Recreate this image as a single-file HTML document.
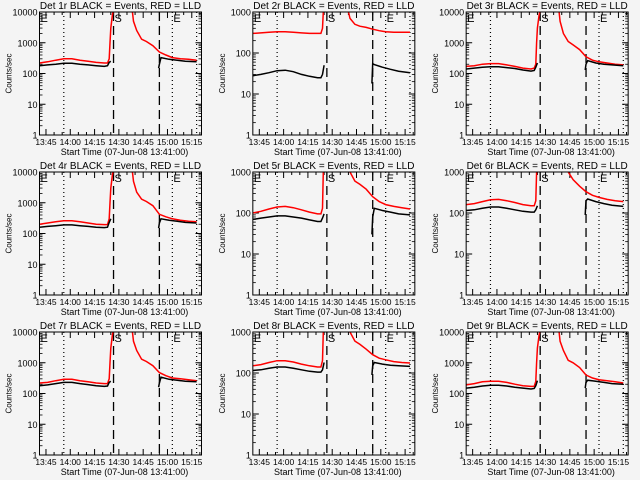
<!DOCTYPE html>
<html><head><meta charset="utf-8">
<style>
html,body{margin:0;padding:0;background:#f4f4f4;}
svg{display:block;}
text{font-family:"Liberation Sans",sans-serif;fill:#000;}
</style></head>
<body>
<svg id="chart" width="640" height="480" xmlns="http://www.w3.org/2000/svg">
<rect x="0" y="0" width="640" height="480" fill="#f4f4f4"/>
</svg>
<script>
// minutes since 13:41:00
const tRed = [0,5,10,15,20,25,30,35,40,42,43,43.5,44,45,46,55,57,58,60,63,66,70,74,78,82,87,92,97];
const tBlack = [0,5,10,15,20,25,30,35,40,42,43,44,45,73.5,74,75,80,85,90,97];
const detNames = ["1r","2r","3r","4r","5r","6r","7r","8r","9r"];
const yMaxes = [10000,1000,10000,10000,1000,1000,10000,1000,10000];
const red1 = [220,240,270,300,300,270,250,230,220,220,300,1000,3000,8000,15000,15000,15000,5000,2500,1300,1100,800,500,400,330,300,290,270];
const red2 = [300,310,320,330,330,320,310,300,300,300,400,1000,3000,8000,15000,15000,15000,1500,700,500,450,420,380,350,330,320,320,320];
const red3 = [170,180,200,210,210,190,170,150,140,150,200,1000,3000,8000,15000,15000,15000,5000,2000,1100,850,600,350,270,240,220,200,190];
const red4 = [200,220,240,260,260,240,220,200,195,195,300,1000,3000,8000,15000,15000,15000,5000,2200,1300,1100,800,420,350,300,270,250,240];
const red5 = [100,110,125,140,145,135,120,105,95,95,130,1000,3000,8000,15000,15000,15000,1500,1000,600,500,380,250,190,160,145,135,125];
const red6 = [160,170,190,210,215,200,180,160,150,150,200,1000,3000,8000,15000,15000,15000,15000,3000,1000,650,450,330,270,240,215,200,190];
const red7 = [220,230,260,290,290,260,240,220,210,210,300,1000,3000,8000,15000,15000,15000,5000,2500,1300,1100,800,480,380,320,300,280,260];
const red8 = [150,160,180,200,200,185,165,150,140,140,200,1000,3000,8000,15000,15000,15000,1500,1000,600,500,380,280,230,210,190,180,175];
const red9 = [190,210,240,250,250,230,200,180,170,170,250,1000,3000,8000,15000,15000,15000,5000,2500,1200,1000,700,400,320,280,260,240,220];
const black1 = [180,190,200,215,215,200,190,180,170,180,230,250,null,150,200,330,290,270,250,240];
const black2 = [28,30,33,37,38,35,30,27,25,25,30,50,null,18,55,52,45,40,36,33];
const black3 = [140,150,160,165,165,155,145,130,120,125,160,220,null,130,200,260,220,200,190,180];
const black4 = [160,170,180,190,190,180,170,160,155,160,230,300,null,150,220,300,270,250,230,220];
const black5 = [70,75,80,85,85,80,75,68,62,62,75,95,null,30,80,130,115,105,95,90];
const black6 = [115,120,130,140,140,130,120,110,105,105,120,150,null,90,200,220,190,170,155,145];
const black7 = [180,190,210,230,230,210,195,180,170,175,230,250,null,160,220,340,290,270,250,240];
const black8 = [115,120,130,140,140,130,120,110,105,105,120,180,null,90,150,180,165,155,150,145];
const black9 = [150,160,175,185,185,175,160,150,140,145,180,260,null,150,230,270,250,230,210,200];
const reds = [red1,red2,red3,red4,red5,red6,red7,red8,red9];
const blacks = [black1,black2,black3,black4,black5,black6,black7,black8,black9];
const xTickMins = [4,19,34,49,64,79,94];
const xTickLabels = ["13:45","14:00","14:15","14:30","14:45","15:00","15:15"];
const dottedMins = [15,82,97];
const dashedMins = [45.7,74];
const markerMins = [0,45.7,82];
const markerLabels = ["E","S","E"];
const T_MAX = 100;

const NS = "http://www.w3.org/2000/svg";
const svg = document.getElementById("chart");
function mk(tag, attrs, parent){
  const e = document.createElementNS(NS, tag);
  for (const k in attrs) e.setAttribute(k, attrs[k]);
  (parent||svg).appendChild(e);
  return e;
}

for (let p = 0; p < 9; p++) {
  const col = p % 3, row = Math.floor(p / 3);
  const L = col * 213.33 + 39.5, T = row * 160 + 12, W = 162, H = 123;
  const yMax = yMaxes[p];
  const dec = Math.log10(yMax);
  const xs = t => L + t / T_MAX * W;
  const ys = v => T + H - Math.log10(v) / dec * H;

  const g = mk("g", {});
  
  

  const clipId = "clip" + p;
  const cp = mk("clipPath", {id: clipId}, g);
  mk("rect", {x: L, y: T, width: W, height: H}, cp);

  const title = mk("text", {x: L + W/2, y: T - 3, "text-anchor": "middle", "font-size": "10"}, g);
  title.textContent = "Det " + detNames[p] + " BLACK = Events, RED = LLD";
  
  

  for (let d = 0; d <= dec; d++) {
    const v = Math.pow(10, d), y = ys(v);
    mk("line", {x1: L, x2: L + 6, y1: y, y2: y, stroke: "#000", "stroke-width": 1}, g);
    mk("line", {x1: L + W - 6, x2: L + W, y1: y, y2: y, stroke: "#000", "stroke-width": 1}, g);
    const lab = mk("text", {x: L - 2, y: y + 3.5, "text-anchor": "end", "font-size": "9"}, g);
    lab.textContent = String(v);
    
    
    if (d < dec) {
      for (let m = 2; m <= 9; m++) {
        const ym = ys(v * m);
        mk("line", {x1: L, x2: L + 3, y1: ym, y2: ym, stroke: "#000", "stroke-width": 0.8}, g);
        mk("line", {x1: L + W - 3, x2: L + W, y1: ym, y2: ym, stroke: "#000", "stroke-width": 0.8}, g);
      }
    }
  }
  for (let m = 4; m < T_MAX; m += 5) {
    const x = xs(m), major = (m - 4) % 15 === 0, len = major ? 6 : 3;
    mk("line", {x1: x, x2: x, y1: T + H, y2: T + H - len, stroke: "#000", "stroke-width": 1}, g);
    mk("line", {x1: x, x2: x, y1: T, y2: T + len, stroke: "#000", "stroke-width": 1}, g);
  }
  xTickMins.forEach((m, i) => {
    const lab = mk("text", {x: xs(m), y: T + H + 10, "text-anchor": "middle", "font-size": "8.5"}, g);
    lab.textContent = xTickLabels[i];
    
    
  });
  const xt = mk("text", {x: L + W/2 + 4, y: T + H + 20, "text-anchor": "middle", "font-size": "9"}, g);
  xt.textContent = "Start Time (07-Jun-08 13:41:00)";
  
  
  const yt = mk("text", {x: 0, y: 0, "text-anchor": "middle", "font-size": "8", transform: "translate(" + (L - 28) + "," + (T + H/2) + ") rotate(-90)"}, g);
  yt.textContent = "Counts/sec";
  
  

  dottedMins.forEach(m => {
    const l = mk("line", {x1: xs(m), x2: xs(m), y1: T, y2: T + H, stroke: "#000", "stroke-width": 1.2, "stroke-dasharray": "1,3"}, g);
    
    
  });
  dashedMins.forEach(m => {
    const l = mk("line", {x1: xs(m), x2: xs(m), y1: T, y2: T + H, stroke: "#000", "stroke-width": 1.3, "stroke-dasharray": "9,5"}, g);
    
    
  });
  markerMins.forEach((m, i) => {
    const tx = mk("text", {x: xs(m) + 1, y: T + 10, "font-size": "11"}, g);
    tx.textContent = markerLabels[i];
    
    
  });

  const dg = mk("g", {"clip-path": "url(#" + clipId + ")"}, g);
  const redPts = tRed.map((t, i) => xs(t).toFixed(1) + "," + ys(reds[p][i]).toFixed(1)).join(" ");
  const rl = mk("polyline", {points: redPts, fill: "none", stroke: "#ff0000", "stroke-width": 1.5}, dg);
  
  
  let segs = [], cur = [];
  tBlack.forEach((t, i) => {
    const v = blacks[p][i];
    if (v === null) { if (cur.length) segs.push(cur); cur = []; }
    else cur.push(xs(t).toFixed(1) + "," + ys(v).toFixed(1));
  });
  if (cur.length) segs.push(cur);
  segs.forEach(s => {
    const bl = mk("polyline", {points: s.join(" "), fill: "none", stroke: "#000", "stroke-width": 1.5}, dg);
    
    
  });

  const fr = mk("rect", {x: L, y: T, width: W, height: H, fill: "none", stroke: "#000", "stroke-width": 1}, g);
  
  
}
</script>
</body></html>
